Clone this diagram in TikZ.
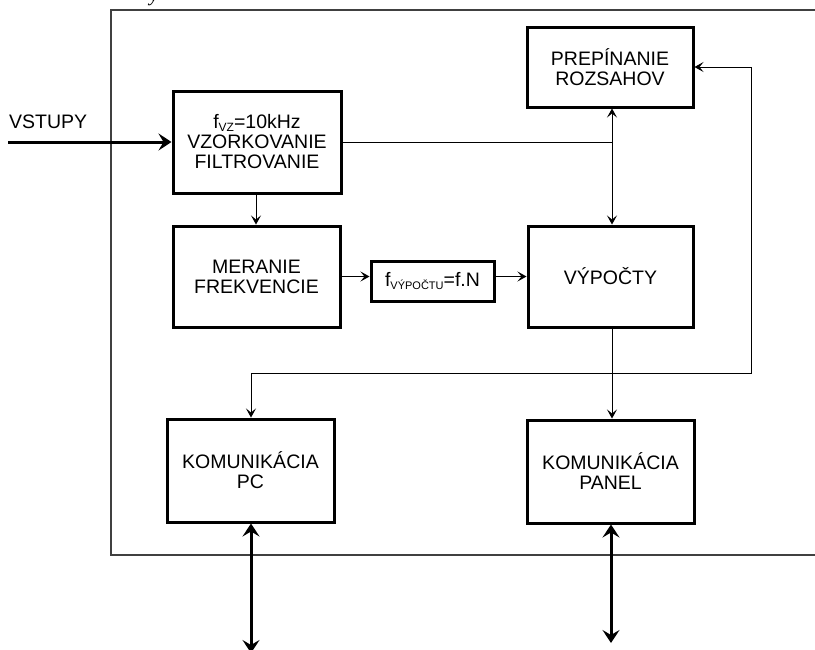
\documentclass[tikz,border=0pt]{standalone}
\usepackage{fontspec}
\setmainfont{Liberation Sans}
\newfontfamily\seriffont{Liberation Serif}
\usetikzlibrary{arrows.meta}
\tikzset{
  blk/.style={draw, line width=3pt, align=center, inner sep=0pt,
    font=\fontsize{19.5}{20}\selectfont},
  frame/.style={draw=black!75, line width=1.2pt},
  conn/.style={draw, line width=1pt},
  thinarr/.style={conn, -{Stealth[length=9pt,width=10pt,inset=4pt]}},
  thinboth/.style={conn, {Stealth[length=9pt,width=10pt,inset=4pt]}-{Stealth[length=9pt,width=10pt,inset=4pt]}},
  thickarr/.style={draw, line width=3pt, -{Stealth[length=13pt,width=17pt,inset=5pt]}},
  thickboth/.style={draw, line width=3pt, {Stealth[length=13pt,width=17pt,inset=5pt]}-{Stealth[length=13pt,width=17pt,inset=5pt]}},
  lbl/.style={inner sep=0pt, font=\fontsize{19.5}{20}\selectfont}
}
\newcommand{\subtxt}[2]{\raisebox{-3pt}{\fontsize{#1}{#1}\selectfont #2}}
\begin{document}
\begin{tikzpicture}[x=1pt,y=-1pt]
\useasboundingbox (0,0) rectangle (815,649);
% cropped text fragment at top
\node[inner sep=0pt, anchor=base, font=\seriffont\itshape\fontsize{20}{20}\selectfont] (yfrag) at (154,1) {y};
% outer frame
\coordinate (fTL) at (111,10);
\coordinate (fTR) at (835,10);
\coordinate (fBL) at (111,555);
\coordinate (fBR) at (835,555);
\draw[frame] (fTR) -- (fTL) -- (fBL) -- (fBR);
% blocks
\node[blk, minimum width=168pt, minimum height=102pt] (vz) at (257,142)
  {f\subtxt{12}{VZ}=10kHz\\VZORKOVANIE\\FILTROVANIE};
\node[blk, minimum width=167pt, minimum height=101pt] (mer) at (256.5,276.5)
  {MERANIE\\FREKVENCIE};
\node[blk, minimum width=123pt, minimum height=40pt] (fv) at (432.5,281)
  {f\subtxt{11}{VÝPOČTU}=f.N};
\node[blk, minimum width=165pt, minimum height=101pt] (vyp) at (610.5,276.5)
  {VÝPOČTY};
\node[blk, minimum width=166pt, minimum height=80pt] (pre) at (610,67)
  {PREPÍNANIE\\ROZSAHOV};
\node[blk, minimum width=167pt, minimum height=103pt] (pc) at (250.5,470.5)
  {KOMUNIKÁCIA\\PC};
\node[blk, minimum width=167pt, minimum height=103pt] (pan) at (610.5,471.5)
  {KOMUNIKÁCIA\\PANEL};
% input
\node[lbl, anchor=west] (vst) at (9,122) {VSTUPY};
\coordinate (inp) at (8,142);
\draw[thickarr] (inp) -- (vz.west);
% helper coordinates
\coordinate (xs) at (612,0);
\coordinate (lr) at (751,67);
\coordinate (lb) at (751,373);
\coordinate (lc) at (251,373);
\coordinate (pcout) at (251,653);
\coordinate (panout) at (611,643);
% connectors
\draw[conn] (vz.east) -- (vz.east -| xs);
\draw[thinboth] (pre.south -| xs) -- (vyp.north -| xs);
\draw[thinarr] (vz.south -| 256,0) -- (mer.north -| 256,0);
\draw[thinarr] (mer.east) -- (mer.east -| fv.west);
\draw[thinarr] (mer.east -| fv.east) -- (vyp.west);
\draw[thinarr] (lr) -- (pre.east);
\draw[conn] (lr) -- (lb) -- (lc);
\draw[thinarr] (lc) -- (pc.north -| lc);
\draw[thinarr] (vyp.south -| xs) -- (pan.north -| xs);
% outputs
\draw[thickboth] (pc.south -| pcout) -- (pcout);
\draw[thickboth] (pan.south -| panout) -- (panout);
\end{tikzpicture}
\end{document}
